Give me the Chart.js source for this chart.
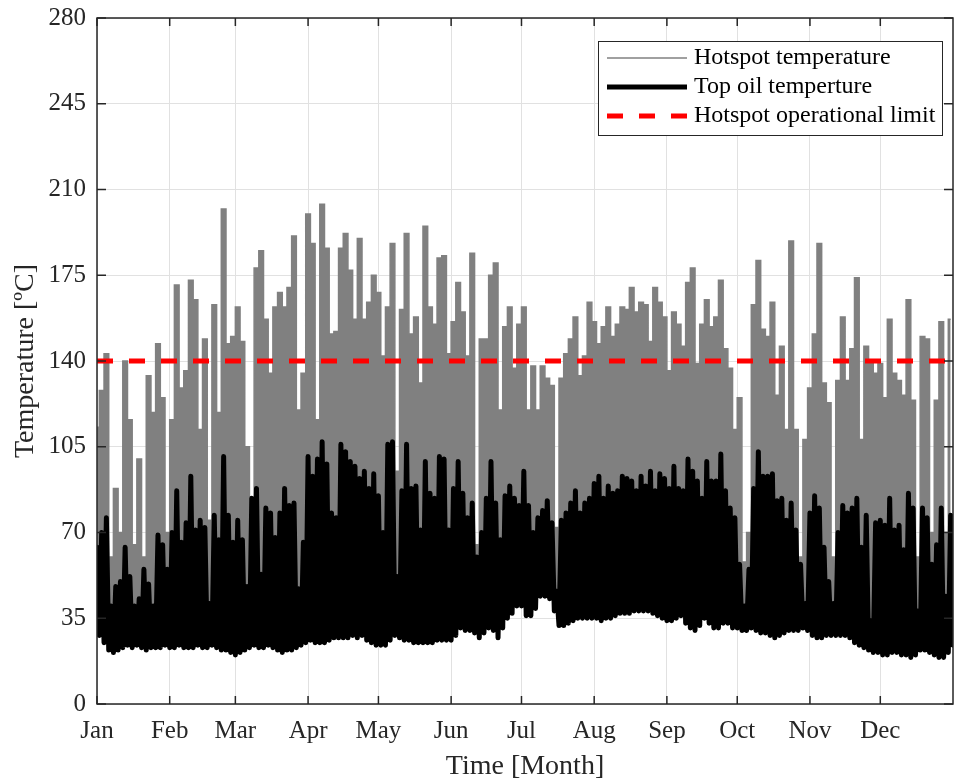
<!DOCTYPE html>
<html lang="en">
<head>
  <meta charset="UTF-8">
  <title>Hotspot and top oil temperature</title>
  <style>
    body { margin: 0; background: #fff; }
    canvas { display: block; }
  </style>
</head>
<body>
  <canvas id="myChart" width="955" height="783"></canvas>
  <script src="https://cdn.jsdelivr.net/npm/chart.js@4.4.1/dist/chart.umd.min.js"></script>
  <script>
    const monthNames = ['Jan', 'Feb', 'Mar', 'Apr', 'May', 'Jun', 'Jul', 'Aug', 'Sep', 'Oct', 'Nov', 'Dec'];
    const monthStartDays = [0, 31, 59, 90, 120, 151, 181, 212, 243, 273, 304, 334];
    const yTicks = [0, 35, 70, 105, 140, 175, 210, 245, 280];

    // values, one every 2 days (day 0, 2, 4 ... 364)
    const hotspotPeak = [
      113,128,143,60,88,70,140,116,65,100,
      60,134,119,147,125,70,116,171,129,136,
      173,165,112,149,75,163,119,202,147,150,
      162,148,105,80,178,185,157,135,162,168,
      162,170,191,120,135,200,188,116,204,186,
      151,152,186,192,177,157,190,157,164,175,
      168,142,162,188,95,161,192,151,158,131,
      195,162,155,182,183,143,156,172,160,142,
      184,65,149,149,175,180,120,154,162,137,
      155,162,120,138,120,138,133,130,72,133,
      143,149,158,134,142,164,156,147,154,162,
      150,155,162,161,170,160,164,163,148,170,
      164,158,136,160,155,146,172,178,139,155,
      165,154,158,173,145,137,112,125,58,70,
      163,181,153,150,164,126,146,112,189,112,
      60,108,129,151,188,131,123,60,132,158,
      132,145,174,108,146,139,135,139,125,157,
      135,132,126,165,124,60,150,149,70,124,
      156,70,157
    ];
    const topOilPeak = [
      64,70,76,40,48,50,64,52,40,43,
      55,49,40,69,65,55,70,87,66,74,
      93,71,75,72,41,77,67,101,77,66,
      75,67,48,84,88,53,80,78,68,78,
      88,81,82,47,66,101,93,100,107,98,
      78,76,106,103,99,97,92,95,88,94,
      85,70,106,107,52,87,106,88,89,71,
      99,86,84,101,100,71,88,99,86,76,
      82,60,70,84,99,82,67,85,89,84,
      81,95,81,70,76,79,83,74,46,75,
      78,82,87,78,82,84,90,93,84,89,
      86,87,93,92,91,87,93,89,95,87,
      94,92,88,97,88,87,100,95,91,84,
      99,91,91,102,87,80,76,57,40,55,
      88,103,93,93,94,83,84,75,82,71,
      57,41,78,85,80,64,50,41,70,81,
      78,80,84,64,77,34,74,75,73,84,
      71,73,63,86,80,38,80,76,57,65,
      80,44,77
    ];
    // daily lows of top oil, on the odd days in between (day 1, 3 ... 365)
    const topOilLow = [
      28,25,22,21,22,23,24,23,24,23,
      22,23,23,23,24,23,23,24,23,23,
      23,24,23,23,24,23,22,22,21,20,
      21,22,23,24,23,23,24,23,22,21,
      22,22,23,24,25,26,25,25,25,26,
      27,27,27,27,28,27,28,26,25,24,
      24,24,26,28,27,26,26,25,25,25,
      25,25,26,26,26,26,28,31,30,30,
      29,27,29,31,30,27,31,35,37,40,
      40,36,36,39,44,44,43,38,32,32,
      33,34,35,35,35,35,35,34,35,35,
      36,37,37,37,38,38,38,38,37,36,
      35,34,34,35,36,33,31,30,32,35,
      33,31,31,33,33,31,31,30,30,31,
      30,29,29,28,27,28,29,30,30,30,
      31,30,28,27,27,28,28,28,28,28,
      27,25,24,23,22,21,21,20,20,21,
      21,20,20,19,20,22,22,21,20,19,
      19,21,24
    ];
    const limitDays = [0, 365];
    const limitTemp = [140, 140];

    const hotspotPoints = hotspotPeak.map((v, i) => ({x: i * 2, y: v}));
    const topOilPoints = [];
    topOilPeak.forEach((v, i) => {
      topOilPoints.push({x: i * 2, y: v});
      topOilPoints.push({x: i * 2 + 1, y: topOilLow[i]});
    });
    const limitPoints = limitDays.map((d, i) => ({x: d, y: limitTemp[i]}));

    const axisColor = '#262626';
    const serif = "'Liberation Serif', 'Times New Roman', serif";

    // MATLAB style box with inward ticks on all four sides
    const axesBox = {
      id: 'axesBox',
      afterDatasetsDraw(chart) {
        const {ctx, chartArea: a, scales: {x, y}} = chart;
        ctx.save();
        ctx.strokeStyle = axisColor;
        ctx.lineWidth = 1.5;
        ctx.beginPath();
        monthStartDays.forEach(d => {
          const px = x.getPixelForValue(d);
          ctx.moveTo(px, a.bottom); ctx.lineTo(px, a.bottom - 8);
          ctx.moveTo(px, a.top); ctx.lineTo(px, a.top + 8);
        });
        yTicks.forEach(v => {
          const py = y.getPixelForValue(v);
          ctx.moveTo(a.left, py); ctx.lineTo(a.left + 9, py);
          ctx.moveTo(a.right, py); ctx.lineTo(a.right - 9, py);
        });
        ctx.stroke();
        ctx.strokeRect(a.left, a.top, a.right - a.left, a.bottom - a.top);
        ctx.restore();
      }
    };

    const boxLegend = {
      id: 'boxLegend',
      afterDraw(chart) {
        const ctx = chart.ctx;
        const left = 598, top = 41, w = 344, h = 94;
        ctx.save();
        ctx.fillStyle = '#fff';
        ctx.fillRect(left, top, w, h);
        ctx.strokeStyle = axisColor;
        ctx.lineWidth = 1;
        ctx.strokeRect(left + 0.5, top + 0.5, w, h);
        ctx.font = '24px ' + serif;
        ctx.textBaseline = 'middle';
        chart.data.datasets.forEach((ds, i) => {
          const cy = top + 17 + i * 29;
          ctx.strokeStyle = ds.borderColor;
          ctx.lineWidth = ds.borderWidth;
          ctx.setLineDash(ds.borderDash || []);
          ctx.lineCap = 'butt';
          ctx.beginPath();
          ctx.moveTo(607, cy);
          ctx.lineTo(687, cy);
          ctx.stroke();
          ctx.setLineDash([]);
          ctx.fillStyle = '#000';
          ctx.fillText(ds.label, 694, cy);
        });
        ctx.restore();
      }
    };

    const ctx = document.getElementById('myChart').getContext('2d');
    const myChart = new Chart(ctx, {
      type: 'line',
      data: {
        datasets: [{
          label: 'Hotspot temperature',
          data: hotspotPoints,
          borderColor: '#808080',
          backgroundColor: '#808080',
          borderWidth: 1.5,
          stepped: 'middle',
          fill: 1,
          order: 3
        }, {
          label: 'Top oil temperture',
          data: topOilPoints,
          borderColor: '#000000',
          borderWidth: 5,
          borderJoinStyle: 'round',
          borderCapStyle: 'round',
          fill: false,
          order: 2
        }, {
          label: 'Hotspot operational limit',
          data: limitPoints,
          borderColor: '#ff0000',
          borderWidth: 5,
          borderDash: [16, 16],
          fill: false,
          order: 1
        }]
      },
      options: {
        responsive: false,
        animation: false,
        devicePixelRatio: 1,
        layout: { padding: { left: 0, right: 2, top: 18, bottom: 0 } },
        elements: { point: { radius: 0 }, line: { tension: 0 } },
        plugins: {
          legend: { display: false },
          tooltip: { enabled: false }
        },
        scales: {
          x: {
            type: 'linear',
            min: 0,
            max: 365,
            afterBuildTicks: scale => { scale.ticks = monthStartDays.map(v => ({value: v})); },
            afterFit: scale => { scale.height = 79; },
            ticks: {
              autoSkip: false,
              maxRotation: 0,
              padding: 12,
              color: axisColor,
              font: { family: serif, size: 25 },
              callback: v => monthNames[monthStartDays.indexOf(v)]
            },
            grid: { color: '#e1e1e1', lineWidth: 1, drawTicks: false },
            border: { display: false },
            title: {
              display: true,
              text: 'Time [Month]',
              color: axisColor,
              font: { family: serif, size: 28 },
              padding: { top: 0, bottom: 0 }
            }
          },
          y: {
            min: 0,
            max: 280,
            afterBuildTicks: scale => { scale.ticks = yTicks.map(v => ({value: v})); },
            afterFit: scale => { scale.width = 97; },
            ticks: {
              padding: 11,
              color: axisColor,
              font: { family: serif, size: 25, lineHeight: 0.56 }
            },
            grid: { color: '#e1e1e1', lineWidth: 1, drawTicks: false },
            border: { display: false },
            title: {
              display: true,
              text: 'Temperature [ºC]',
              color: axisColor,
              font: { family: serif, size: 28 },
              padding: { top: 9, bottom: 0 }
            }
          }
        }
      },
      plugins: [axesBox, boxLegend]
    });
  </script>
</body>
</html>
